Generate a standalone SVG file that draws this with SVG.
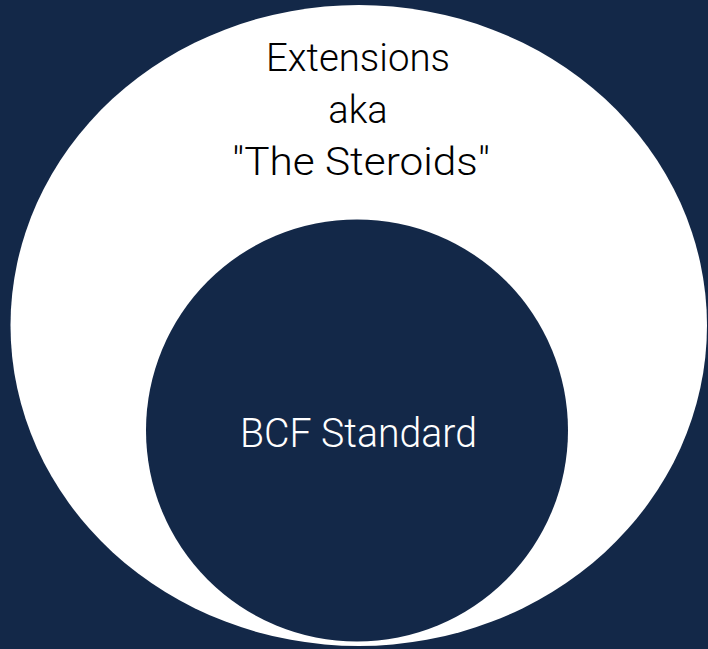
<svg xmlns="http://www.w3.org/2000/svg" width="708" height="649" viewBox="0 0 708 649">
  <style>
    .lbl { font-family: Roboto, "Liberation Sans", sans-serif; font-weight: 300; text-anchor: middle; }
    .dark { fill: #132848; }
  </style>
  <rect width="708" height="649" class="dark"/>
  <g id="extensions">
    <ellipse cx="358.75" cy="325.5" rx="348.25" ry="320.5" fill="#ffffff"/>
    <text class="lbl" x="358" y="71" font-size="38" fill="#000000" textLength="184" lengthAdjust="spacingAndGlyphs">Extensions</text>
    <text class="lbl" x="358" y="123" font-size="38" fill="#000000">aka</text>
    <text class="lbl" x="361" y="175" font-size="38" fill="#000000" textLength="258" lengthAdjust="spacingAndGlyphs">"The Steroids"</text>
  </g>
  <g id="bcf-standard">
    <circle cx="357" cy="430.5" r="211" class="dark"/>
    <text class="lbl" x="358.5" y="447" font-size="40" fill="#ffffff" font-weight="400" textLength="237" lengthAdjust="spacingAndGlyphs">BCF Standard</text>
  </g>
  <g id="connectors"/>
</svg>
